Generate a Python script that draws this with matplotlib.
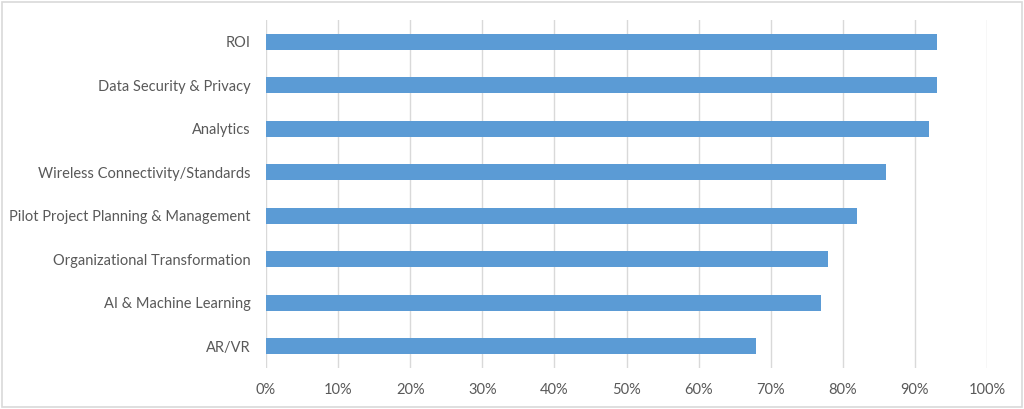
import matplotlib.pyplot as plt
from matplotlib.patches import Rectangle
from matplotlib.ticker import PercentFormatter

categories = ['ROI', 'Data Security & Privacy', 'Analytics', 'Wireless Connectivity/Standards',
              'Pilot Project Planning & Management', 'Organizational Transformation',
              'AI & Machine Learning', 'AR/VR']
values = [0.93, 0.93, 0.92, 0.86, 0.82, 0.78, 0.77, 0.68]
xticks = [0, 0.1, 0.2, 0.3, 0.4, 0.5, 0.6, 0.7, 0.8, 0.9, 1.0]

plt.rcParams['font.family'] = ['Lato', 'DejaVu Sans']

fig = plt.figure(figsize=(10.24, 4.09), dpi=100)
ax = fig.add_axes([0.2598, 0.100, 0.7041, 0.851])

y = list(range(len(categories)))[::-1]
ax.barh(y, values, height=0.37, color='#5b9bd5', zorder=3)

ax.set_xlim(0, 1.0)
ax.set_ylim(-0.5, len(categories) - 0.5)
ax.set_xticks(xticks)
ax.xaxis.set_major_formatter(PercentFormatter(1.0, decimals=0))
ax.set_yticks(y)
ax.set_yticklabels(categories)
ax.grid(axis='x', color='#d9d9d9', linewidth=1, zorder=0)
for s in ax.spines.values():
    s.set_visible(False)
ax.tick_params(axis='both', length=0, labelsize=10.5, labelcolor='#595959')
ax.tick_params(axis='x', pad=11)
ax.tick_params(axis='y', pad=11)

# outer frame
fig.patches.append(Rectangle((0.002, 0.004), 0.996, 0.992, transform=fig.transFigure,
                             fill=False, edgecolor='#d9d9d9', linewidth=1.2))

fig.savefig('out.png', dpi=100)
